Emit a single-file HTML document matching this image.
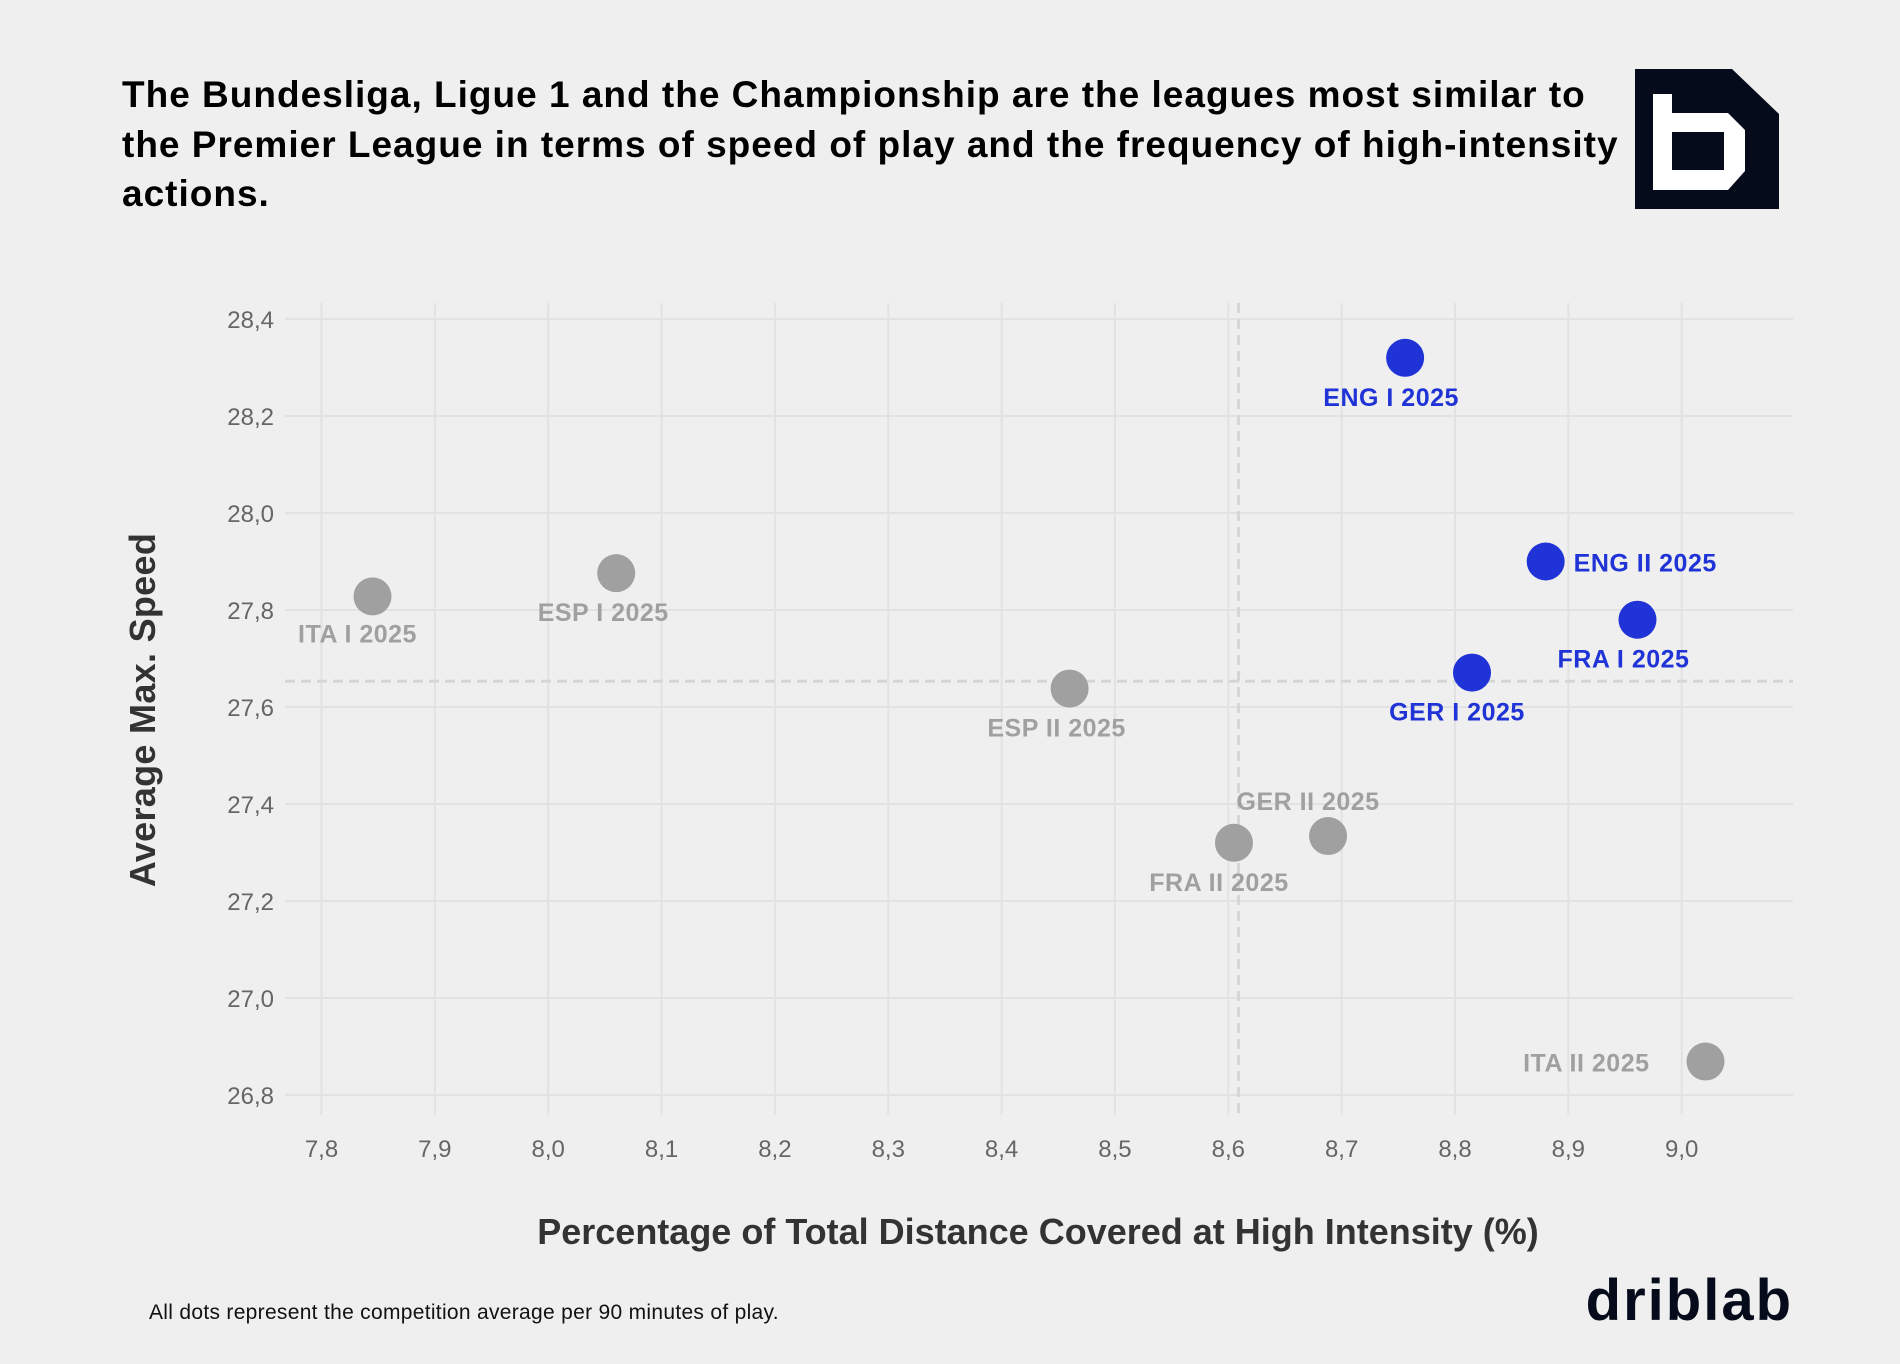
<!DOCTYPE html>
<html><head><meta charset="utf-8"><style>
body{margin:0;background:#efefef;font-family:"Liberation Sans",sans-serif;}
svg{display:block}
</style></head><body>
<svg id="chart" width="1900" height="1364" viewBox="0 0 1900 1364" xmlns="http://www.w3.org/2000/svg">
<rect width="1900" height="1364" fill="#efefef"/>
<g font-weight="bold" font-size="37" fill="#000" letter-spacing="1">
<text x="122" y="107">The Bundesliga, Ligue 1 and the Championship are the leagues most similar to</text>
<text x="122" y="157">the Premier League in terms of speed of play and the frequency of high-intensity</text>
<text x="122" y="206">actions.</text>
</g>
<g>
<path d="M1635 69 H1732 L1779 114 V209 H1635 Z" fill="#050b1a"/>
<path d="M1653 94 H1672 V113 H1728 L1745 130 V171 L1728 190 H1653 Z M1672 132 V170 H1724 V132 Z" fill="#fff" fill-rule="evenodd"/>
</g>
<g id="grid"></g>
<g id="marks"></g>
<text x="155" y="710" transform="rotate(-90 155 710)" text-anchor="middle" font-weight="bold" font-size="36" fill="#333" letter-spacing="0.3">Average Max. Speed</text>
<text x="1038" y="1244" text-anchor="middle" font-weight="bold" font-size="36" fill="#333" letter-spacing="0">Percentage of Total Distance Covered at High Intensity (%)</text>
<text x="149" y="1319" font-size="21" fill="#111" letter-spacing="0.3">All dots represent the competition average per 90 minutes of play.</text>
<text x="1793" y="1320" text-anchor="end" font-weight="bold" font-size="58" fill="#050b1a" letter-spacing="2">driblab</text>
</svg>
<script>
const leagues=["ITA I 2025","ESP I 2025","ESP II 2025","FRA II 2025","GER II 2025","ENG I 2025","ENG II 2025","FRA I 2025","GER I 2025","ITA II 2025"];
const xValues=[7.845,8.06,8.46,8.605,8.688,8.756,8.88,8.961,8.815,9.021];
const yValues=[27.828,27.876,27.638,27.32,27.334,28.32,27.90,27.78,27.671,26.869];
const highlighted=[0,0,0,0,0,1,1,1,1,0];
const xTicks=[7.8,7.9,8.0,8.1,8.2,8.3,8.4,8.5,8.6,8.7,8.8,8.9,9.0];
const yTicks=[26.8,27.0,27.2,27.4,27.6,27.8,28.0,28.2,28.4];
const xRef=8.609, yRef=27.653;
// label placement (styling): dx, dy, anchor
const labelPos=[[-15,46,"middle"],[-13,48,"middle"],[-13,48,"middle"],[-15,48,"middle"],[-20,-26,"middle"],[-14,48,"middle"],[28,10,"start"],[-14,48,"middle"],[-15,48,"middle"],[-56,10,"end"]];
const X=v=>321.5+(v-7.8)*1133.5, Y=v=>319+(28.4-v)*485;
const ns="http://www.w3.org/2000/svg";
const grid=document.getElementById('grid'), marks=document.getElementById('marks'), svg=document.getElementById('chart');
function mk(t,a,p){const e=document.createElementNS(ns,t);for(const k in a)e.setAttribute(k,a[k]);p.appendChild(e);return e;}
xTicks.forEach(t=>{
 const l=mk('line',{x1:X(t),x2:X(t),y1:303,y2:1115,stroke:'#e2e2e2','stroke-width':2},grid);
 
 
 const tx=mk('text',{x:X(t),y:1157,'text-anchor':'middle','font-size':24,fill:'#666'},svg);
 tx.textContent=t.toFixed(1).replace('.',',');
 
 
});
yTicks.forEach(t=>{
 const l=mk('line',{x1:285,x2:1793,y1:Y(t),y2:Y(t),stroke:'#e2e2e2','stroke-width':2},grid);
 
 
 const tx=mk('text',{x:274,y:Y(t)+9,'text-anchor':'end','font-size':24,fill:'#666'},svg);
 tx.textContent=t.toFixed(1).replace('.',',');
 
 
});
const vr=mk('line',{x1:X(xRef),x2:X(xRef),y1:303,y2:1115,stroke:'#d6d6d6','stroke-width':3,'stroke-dasharray':'10 6'},grid);


const hr=mk('line',{x1:285,x2:1793,y1:Y(yRef),y2:Y(yRef),stroke:'#d6d6d6','stroke-width':3,'stroke-dasharray':'10 6'},grid);


leagues.forEach((n,i)=>{
 const col=highlighted[i]?'#1f33d6':'#a0a0a0';
 const c=mk('circle',{cx:X(xValues[i]),cy:Y(yValues[i]),r:19,fill:col},marks);
 
 
 const p=labelPos[i];
 const t=mk('text',{x:X(xValues[i])+p[0],y:Y(yValues[i])+p[1],'text-anchor':p[2],'font-size':25,'font-weight':'bold',fill:col,'letter-spacing':'0.5'},marks);
 t.textContent=n;
 
 
});
</script>
</body></html>
